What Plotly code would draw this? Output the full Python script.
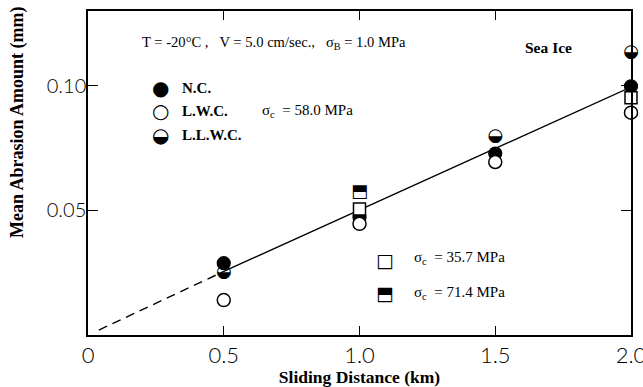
import plotly.graph_objects as go

# ---------------- data ----------------
dist = [0.5, 1.0, 1.5, 2.0]
nc_vals = [0.0288, 0.0472, 0.0728, 0.0998]          # N.C. (filled circle)
lwc_vals = [0.0140, 0.0446, 0.0694, 0.0892]         # L.W.C. (open circle)
llwc_dist = [0.5, 1.5, 2.0]
llwc_vals = [0.0252, 0.0798, 0.1134]                # L.L.W.C. (half-filled circle)
sq357_dist = [1.0, 2.0]
sq357_vals = [0.0506, 0.0952]                       # sigma_c = 35.7 MPa (open square)
sq714_dist = [1.0]
sq714_vals = [0.0572]                               # sigma_c = 71.4 MPa (half-filled square)

fit_solid_x = [0.5, 2.0]
fit_solid_y = [0.0255, 0.0995]
fit_dash_x = [0.04, 0.5]
fit_dash_y = [0.0020, 0.0255]

xtick_vals = [0, 0.5, 1.0, 1.5, 2.0]
xtick_text = ["0", "0.5", "1.0", "1.5", "2.0"]
ytick_vals = [0.05, 0.10]
ytick_text = ["0.05", "0.10"]

# ---------------- layout geometry ----------------
W, H = 643, 387
ML, MR, MT, MB = 88, 12, 11, 52
PW, PH = W - ML - MR, H - MT - MB

def px(x):
    return (x - ML) / PW

def py(y):
    return (H - MB - y) / PH

SERIF = "Liberation Serif, Times New Roman, serif"
SANS = "Lato, Open Sans, sans-serif"
GLYPH = "DejaVu Sans"

fig = go.Figure()

# fit line
fig.add_trace(go.Scatter(x=fit_dash_x, y=fit_dash_y, mode="lines",
                         line=dict(color="black", width=1.4, dash="9px,6px"),
                         showlegend=False, hoverinfo="skip"))
fig.add_trace(go.Scatter(x=fit_solid_x, y=fit_solid_y, mode="lines",
                         line=dict(color="black", width=1.4),
                         showlegend=False, hoverinfo="skip"))

# N.C.
fig.add_trace(go.Scatter(x=dist, y=nc_vals, mode="markers", cliponaxis=False,
                         marker=dict(symbol="circle", size=13, color="black",
                                     line=dict(color="black", width=1.2)),
                         showlegend=False))
# L.W.C.
fig.add_trace(go.Scatter(x=dist, y=lwc_vals, mode="markers", cliponaxis=False,
                         marker=dict(symbol="circle", size=13, color="white",
                                     line=dict(color="black", width=1.5)),
                         showlegend=False))
# sigma 35.7 open square
fig.add_trace(go.Scatter(x=sq357_dist, y=sq357_vals, mode="markers", cliponaxis=False,
                         marker=dict(symbol="square", size=12, color="white",
                                     line=dict(color="black", width=1.5)),
                         showlegend=False))
# L.L.W.C. half filled circle (glyph)
fig.add_trace(go.Scatter(x=llwc_dist, y=llwc_vals, mode="text", cliponaxis=False,
                         text=["\u25D2"] * len(llwc_dist), textposition="middle center",
                         textfont=dict(family=GLYPH, size=18, color="black"),
                         showlegend=False))
# sigma 71.4 half filled square (glyph)
fig.add_trace(go.Scatter(x=sq714_dist, y=sq714_vals, mode="text", cliponaxis=False,
                         text=["\u2B12"] * len(sq714_dist), textposition="middle center",
                         textfont=dict(family=GLYPH, size=18, color="black"),
                         showlegend=False))

ann = []
def add_text(x, y, text, size=13, bold=False, xanchor="left", family=SERIF, **kw):
    ann.append(dict(x=px(x), y=py(y), xref="paper", yref="paper", text=text,
                    showarrow=False, xanchor=xanchor, yanchor="middle",
                    font=dict(family=family, size=size, color="black",
                              weight="bold" if bold else "normal"), **kw))

nb = "\u00a0"
add_text(140, 43, f"T = -20°C ,{nb*3}V = 5.0 cm/sec.,{nb*3}σ<sub>B</sub> = 1.0 MPa", size=14.6)
add_text(523, 47, "Sea Ice", size=15.5, bold=True)

# legend block 1
add_text(160, 88, "\u25CF", size=20, xanchor="center", family=GLYPH)
add_text(160, 111, "\u25CB", size=20, xanchor="center", family=GLYPH)
add_text(160, 135, "\u25D2", size=20, xanchor="center", family=GLYPH)
add_text(180, 88, "N.C.", size=15, bold=True)
add_text(180, 111, "L.W.C.", size=15, bold=True)
add_text(180, 135, "L.L.W.C.", size=15, bold=True)
add_text(260, 111, f"σ<sub>c</sub>{nb*2}= 58.0 MPa", size=15)

# legend block 2
add_text(385, 260, "\u25A1", size=19, xanchor="center", family=GLYPH)
add_text(385, 293, "\u2B12", size=19, xanchor="center", family=GLYPH)
add_text(412, 258, f"σ<sub>c</sub>{nb*2}= 35.7 MPa", size=15)
add_text(412, 293, f"σ<sub>c</sub>{nb*2}= 71.4 MPa", size=15)

# y axis title
ann.append(dict(x=px(18), y=py(122), xref="paper", yref="paper",
                text="Mean Abrasion Amount (mm)", showarrow=False, textangle=-90,
                xanchor="center", yanchor="middle",
                font=dict(family=SERIF, size=18, color="black", weight="bold")))

fig.update_layout(
    width=W, height=H,
    margin=dict(l=ML, r=MR, t=MT, b=MB, pad=0, autoexpand=False),
    paper_bgcolor="white", plot_bgcolor="white",
    showlegend=False,
    annotations=ann,
    xaxis=dict(range=[0, 2.0], tickvals=xtick_vals, ticktext=xtick_text,
               ticks="inside", ticklen=9, tickwidth=1.3, tickcolor="black",
               showline=True, linecolor="black", linewidth=1.5, mirror="ticks",
               showgrid=False, zeroline=False, ticklabeloverflow="allow",
               automargin=False,
               tickfont=dict(family=SANS, size=22, color="black", weight=300),
               title=dict(text="Sliding Distance (km)", standoff=4,
                          font=dict(family=SERIF, size=17.5, color="black", weight="bold"))),
    yaxis=dict(range=[0, 0.13], tickvals=ytick_vals, ticktext=ytick_text,
               ticks="inside", ticklen=10, tickwidth=1.3, tickcolor="black",
               showline=True, linecolor="black", linewidth=1.5, mirror="ticks",
               showgrid=False, zeroline=False, ticklabelstandoff=-4,
               automargin=False,
               tickfont=dict(family=SANS, size=20, color="black", weight=300)),
)

fig.write_html("out.html")
